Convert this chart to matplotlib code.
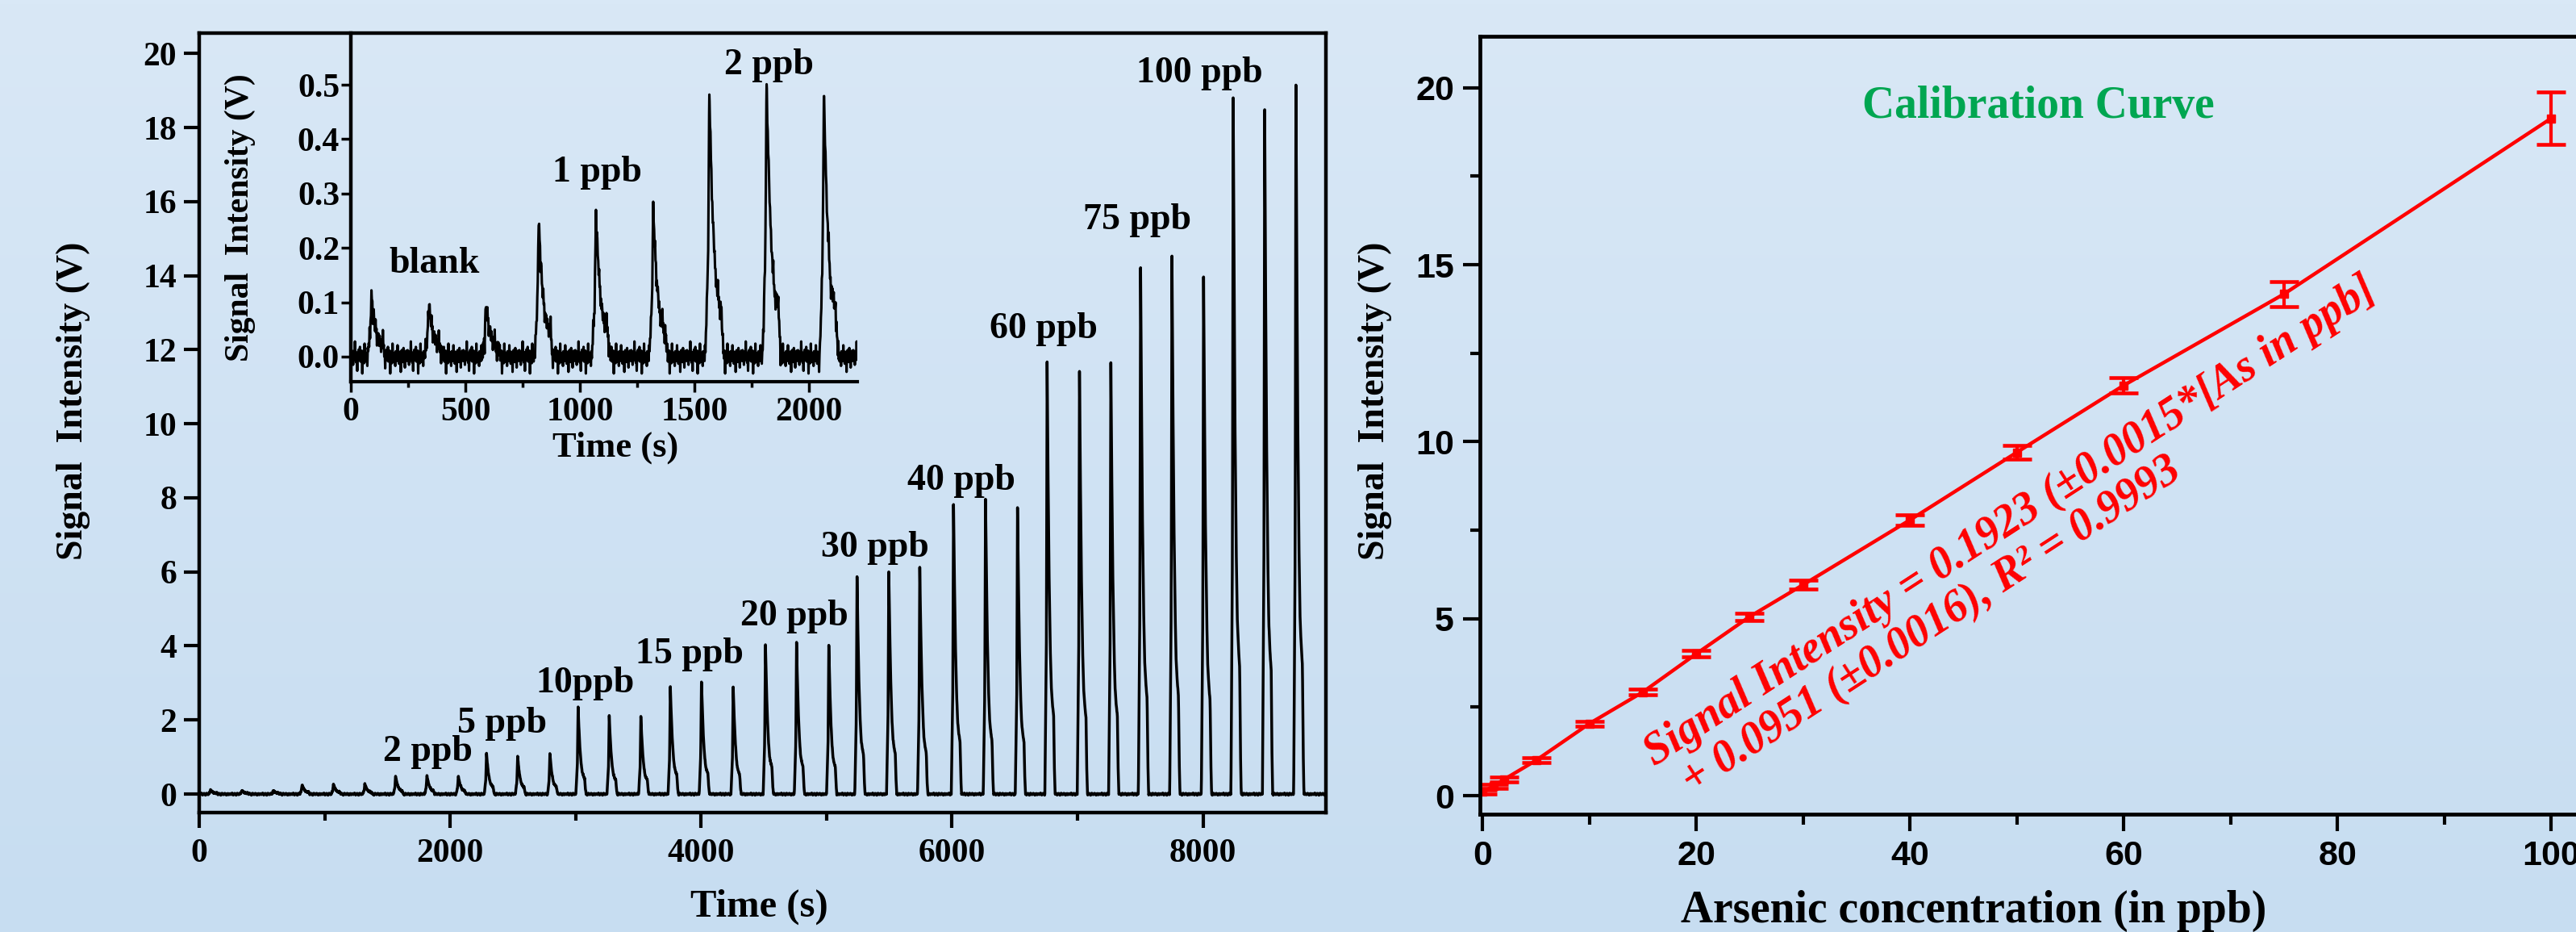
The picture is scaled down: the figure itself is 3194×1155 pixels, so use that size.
import numpy as np
import matplotlib.pyplot as plt
from matplotlib.ticker import MultipleLocator

plt.rcParams['font.family'] = ['Liberation Serif', 'DejaVu Serif']
plt.rcParams['font.weight'] = 'bold'
plt.rcParams['axes.labelweight'] = 'bold'

W, H = 3194, 1155
DPI = 100

# chromatogram: injection peaks (time at peak top in s, peak height in V)
peak_times = [90, 340, 590, 820, 1070, 1320, 1565, 1815, 2065,
              2290, 2538, 2795, 3020, 3268, 3520, 3755, 4003, 4256,
              4513, 4761, 5018, 5243, 5496, 5743, 6012, 6267, 6522,
              6758, 7016, 7266, 7503, 7753, 8005, 8241, 8492, 8741]
peak_heights = [0.113, 0.099, 0.096, 0.254, 0.264, 0.273, 0.487, 0.505, 0.486,
                1.09, 1.02, 1.10, 2.34, 2.12, 2.09, 2.90, 3.03, 2.88,
                4.03, 4.07, 4.02, 5.86, 6.01, 6.15, 7.82, 7.97, 7.73,
                11.67, 11.42, 11.64, 14.22, 14.53, 13.97, 18.83, 18.48, 19.15]

# shape of one peak (seconds from top, fraction of height)
shape_dt = [-18, -6, 0, 6, 15, 25, 33, 42, 52, 58, 64]
shape_frac = [0, 0.35, 1.0, 0.78, 0.52, 0.34, 0.25, 0.21, 0.18, 0.06, 0]

# baseline ripple (V)
ripple = [0.004, -0.008, 0.012, -0.003, 0.007, -0.015, 0.002, 0.010, -0.006, 0.028,
          -0.004, 0.006, -0.011, 0.003, -0.026, 0.009, -0.002, 0.013, -0.007, 0.001,
          0.018, -0.009, 0.005, -0.004, 0.011, -0.031, 0.006, -0.001, 0.008, -0.012,
          0.024, -0.005, 0.003, -0.009, 0.007, 0.000, -0.017, 0.010, -0.003, 0.005,
          -0.008, 0.021, -0.006, 0.002, -0.013, 0.009, -0.002, 0.006, -0.028, 0.004,
          0.012, -0.005, 0.001, -0.010, 0.016, -0.004, 0.007, -0.020, 0.003, -0.007,
          0.011]

main_labels = ['2 ppb', '5 ppb', '10ppb', '15 ppb', '20 ppb', '30 ppb',
               '40 ppb', '60 ppb', '75 ppb', '100 ppb']
main_label_x = [1819, 2414, 3078, 3907, 4745, 5386, 6073, 6730, 7479, 7970]
main_label_y = [1.14, 1.9, 2.98, 3.78, 4.79, 6.64, 8.46, 12.56, 15.5, 19.45]

inset_labels = ['blank', '1 ppb', '2 ppb']
inset_label_x = [365, 1074, 1824]
inset_label_y = [0.171, 0.338, 0.536]

# calibration
conc = [0, 1, 2, 5, 10, 15, 20, 25, 30, 40, 50, 60, 75, 100]
signal = [0.11, 0.27, 0.46, 1.00, 2.04, 2.93, 4.01, 5.06, 5.96, 7.79, 9.70,
          11.59, 14.17, 19.13]
signal_err = [0.05, 0.05, 0.06, 0.07, 0.07, 0.08, 0.09, 0.10, 0.12, 0.15,
              0.20, 0.21, 0.35, 0.74]

# build trace
t = np.union1d(np.arange(0, 8981, 2.0), peak_times)
trace = np.resize(np.array(ripple), t.size).astype(float)
for tp, hp in zip(peak_times, peak_heights):
    trace += hp * np.interp(t - tp, shape_dt, shape_frac, left=0, right=0)

fig = plt.figure(figsize=(W / DPI, H / DPI), dpi=DPI)

# page background gradient
bg = fig.add_axes([0, 0, 1, 1], zorder=-10)
g = np.linspace(0, 1, 256)[:, None, None]
c_top = np.array([217, 232, 246]) / 255
c_bot = np.array([199, 221, 241]) / 255
bg.imshow(c_top + (c_bot - c_top) * g, aspect='auto', extent=[0, 1, 0, 1])
bg.axis('off')

# ---- left: signal vs time
ax = fig.add_axes([247 / W, 1 - 1007 / H, (1644 - 247) / W, (1007 - 41) / H])
ax.set_facecolor('none')
ax.plot(t, trace, color='black', lw=2.5)
ax.set_xlim(0, 8980)
ax.set_ylim(-0.5, 20.55)
ax.xaxis.set_major_locator(MultipleLocator(2000))
ax.xaxis.set_minor_locator(MultipleLocator(1000))
ax.yaxis.set_major_locator(MultipleLocator(2))
for s in ax.spines.values():
    s.set_linewidth(3.2)
ax.tick_params(which='major', length=14, width=3, labelsize=30, pad=6)
ax.tick_params(which='minor', length=7, width=3)
ax.tick_params(axis='x', pad=9)
ax.set_xlabel('Time (s)', fontsize=35)
ax.xaxis.set_label_coords(0.497, -0.121)
ax.xaxis.label.set_va('center')
ax.set_ylabel('Signal  Intensity (V)', fontsize=33)
ax.yaxis.set_label_coords(-0.1117, 0.528)
ax.yaxis.label.set_va('center')
for lab, x, y in zip(main_labels, main_label_x, main_label_y):
    ax.text(x, y, lab, ha='center', va='center', fontsize=33)

# ---- inset: first 2200 s
axi = fig.add_axes([435 / W, 1 - 473 / H, (1063 - 435) / W, (473 - 41) / H])
axi.set_facecolor('none')
sel = t <= 2211
axi.plot(t[sel], trace[sel], color='black', lw=2.2)
axi.set_xlim(0, 2211)
axi.set_ylim(-0.046, 0.595)
axi.xaxis.set_major_locator(MultipleLocator(500))
axi.xaxis.set_minor_locator(MultipleLocator(250))
axi.yaxis.set_major_locator(MultipleLocator(0.1))
axi.spines['top'].set_visible(False)
axi.spines['right'].set_visible(False)
axi.spines['left'].set_linewidth(3.2)
axi.spines['bottom'].set_linewidth(3.0)
axi.tick_params(which='major', length=9, width=2.5, labelsize=30, pad=1)
axi.tick_params(which='minor', length=5, width=2.5)
axi.tick_params(axis='x', pad=5)
axi.set_xlabel('Time (s)', fontsize=32)
axi.xaxis.set_label_coords(0.522, -0.19)
axi.xaxis.label.set_va('center')
axi.set_ylabel('Signal  Intensity (V)', fontsize=30)
axi.yaxis.set_label_coords(-0.218, 0.471)
axi.yaxis.label.set_va('center')
for lab, x, y in zip(inset_labels, inset_label_x, inset_label_y):
    axi.text(x, y, lab, ha='center', va='center', fontsize=33)

# ---- right: calibration curve
ax2 = fig.add_axes([1835 / W, 1 - 1009 / H, (3216 - 1835) / W, (1009 - 45) / H])
ax2.set_facecolor('none')
ax2.errorbar(conc, signal, yerr=signal_err, color='red', lw=3.2, marker='s',
             ms=7, capsize=13, capthick=3.3, elinewidth=3)
ax2.set_xlim(-0.25, 104)
ax2.set_ylim(-0.52, 21.45)
ax2.xaxis.set_major_locator(MultipleLocator(20))
ax2.xaxis.set_minor_locator(MultipleLocator(10))
ax2.yaxis.set_major_locator(MultipleLocator(5))
ax2.yaxis.set_minor_locator(MultipleLocator(2.5))
for s in ax2.spines.values():
    s.set_linewidth(3.4)
ax2.tick_params(which='major', length=15, width=3, labelsize=31, pad=8,
                labelfontfamily='Liberation Sans')
ax2.tick_params(which='minor', length=9, width=3)
ax2.set_xlabel('Arsenic concentration (in ppb)', fontsize=40)
ax2.xaxis.set_label_coords(0.443, -0.1245)
ax2.xaxis.label.set_va('center')
ax2.set_ylabel('Signal  Intensity (V)', fontsize=33)
ax2.yaxis.set_label_coords(-0.0941, 0.531)
ax2.yaxis.label.set_va('center')
ax2.text(52, 19.47, 'Calibration Curve', color='#00a651', fontsize=40,
         ha='center', va='center')
ax2.text(49.4, 7.73, 'Signal Intensity = 0.1923 (\u00b10.0015*[As in ppb]',
         color='red', fontsize=40, fontstyle='italic', rotation=33,
         rotation_mode='anchor', ha='center', va='center')
ax2.text(42.0, 4.81, '+ 0.0951 (\u00b10.0016), R\u00b2 = 0.9993',
         color='red', fontsize=40, fontstyle='italic', rotation=33,
         rotation_mode='anchor', ha='center', va='center')

fig.savefig('out.png', dpi=DPI)
